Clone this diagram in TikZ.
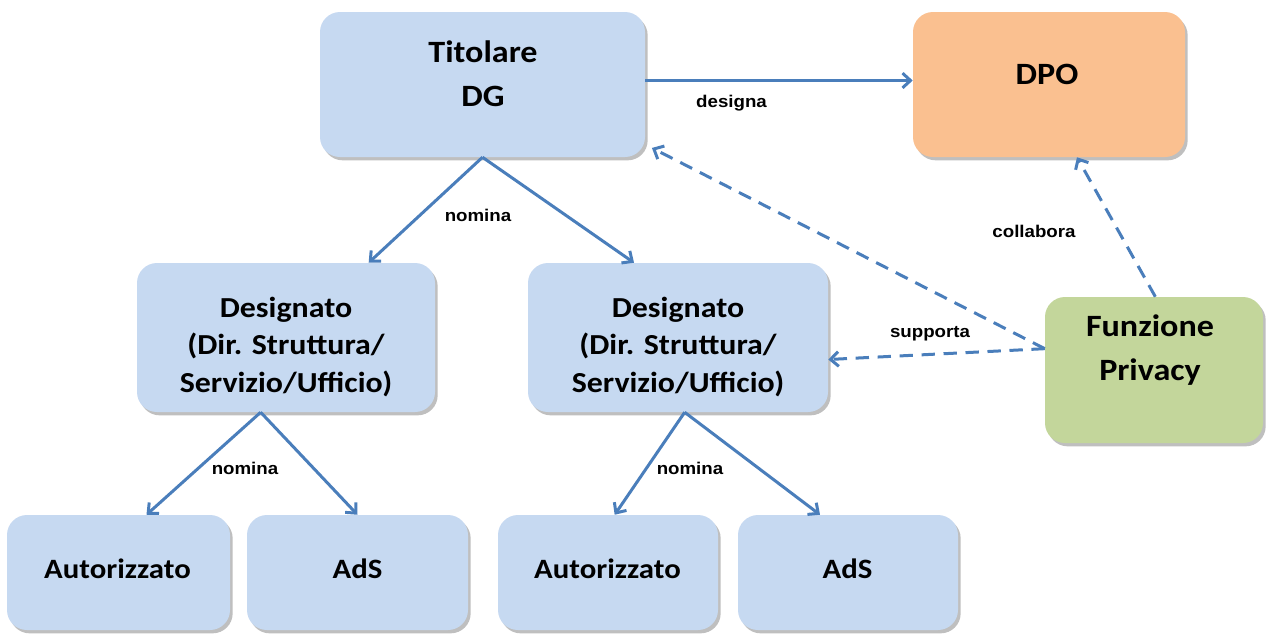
\documentclass[tikz,border=0pt]{standalone}
\usepackage{fontspec}
\setmainfont{Carlito}[FakeStretch=1.1]
\newfontfamily\lblfont{Liberation Sans}[FakeStretch=1.1]
\usetikzlibrary{arrows.meta,shadows}

\definecolor{boxblue}{RGB}{198,217,241}
\definecolor{dpoorange}{RGB}{250,192,144}
\definecolor{fpgreen}{RGB}{195,214,155}
\definecolor{arrowblue}{RGB}{74,126,187}

\tikzset{
  rbox/.style={rounded corners=15pt, inner sep=0pt,
    drop shadow={shadow xshift=2pt, shadow yshift=-2.5pt, fill=black, opacity=0.25}},
  bigtxt/.style={align=center, inner sep=0pt, font=\bfseries\fontsize{23.25pt}{33pt}\selectfont},
  midtxt/.style={align=center, inner sep=0pt, font=\bfseries\fontsize{21.75pt}{28pt}\selectfont},
  smalltxt/.style={align=center, inner sep=0pt, font=\bfseries\fontsize{21pt}{26pt}\selectfont},
  lbl/.style={inner sep=0pt, font=\lblfont\bfseries\fontsize{12.75pt}{15pt}\selectfont},
  arw/.style={draw=arrowblue, line width=2.25pt, -{Straight Barb[length=6pt,width=11pt]}},
  dsh/.style={arw, dash pattern=on 10pt off 6.5pt}
}

\begin{document}
\begin{tikzpicture}[x=0.75pt,y=0.75pt,yscale=-1,xscale=1]
\path[use as bounding box] (0,0) rectangle (1266,633);

%Boxes
\node[rbox, fill=boxblue, minimum width=243.75pt, minimum height=108.75pt] (tit) at (482.5,84.5) {};
\node[rbox, fill=dpoorange, minimum width=204pt, minimum height=108.75pt] (dpo) at (1049,84.5) {};
\node[rbox, fill=boxblue, minimum width=223.5pt, minimum height=111.75pt] (des1) at (286,337.5) {};
\node[rbox, fill=boxblue, minimum width=225pt, minimum height=111.75pt] (des2) at (678,337.5) {};
\node[rbox, fill=fpgreen, minimum width=163.5pt, minimum height=109.5pt] (fp) at (1154,370) {};
\node[rbox, fill=boxblue, minimum width=167.25pt, minimum height=86.25pt] (aut1) at (118.5,572.5) {};
\node[rbox, fill=boxblue, minimum width=165.75pt, minimum height=86.25pt] (ads1) at (357.5,572.5) {};
\node[rbox, fill=boxblue, minimum width=165pt, minimum height=86.25pt] (aut2) at (608,572.5) {};
\node[rbox, fill=boxblue, minimum width=165pt, minimum height=86.25pt] (ads2) at (848,572.5) {};

% Text Node
\node[bigtxt] (titT) at (483,74) {Titolare\\DG};
\node[bigtxt] (dpoT) at (1047,74) {DPO};
\node[midtxt] (des1T) at (286,347) {Designato\\(Dir. Struttura/\\Servizio/Ufficio)};
\node[midtxt] (des2T) at (678,347) {Designato\\(Dir. Struttura/\\Servizio/Ufficio)};
\node[bigtxt] (fpT) at (1150,350) {Funzione\\Privacy};
\node[smalltxt] (aut1T) at (117.5,569) {Autorizzato};
\node[smalltxt] (ads1T) at (357.5,569) {AdS};
\node[smalltxt] (aut2T) at (607.5,569) {Autorizzato};
\node[smalltxt] (ads2T) at (847.5,569) {AdS};

%Arrows
\draw[arw] ([yshift=-3]tit.east) -- ([yshift=-3]dpo.west);
\draw[arw] (tit.south) -- ([xshift=62]des1.north);
\draw[arw] (tit.south) -- ([xshift=-33]des2.north);
\draw[arw] ([xshift=-19]des1.south) -- ([xshift=21]aut1.north);
\draw[arw] ([xshift=-19]des1.south) -- (ads1.north);
\draw[arw] ([xshift=5]des2.south) -- ([xshift=5]aut2.north);
\draw[arw] ([xshift=5]des2.south) -- ([xshift=-21]ads2.north);
\draw[dsh] ([yshift=-16]fp.west) -- ([xshift=5,yshift=-7]tit.south east);
\draw[dsh] ([yshift=-16]fp.west) -- ([yshift=16.5]des2.east);
\draw[dsh] ([xshift=1]fp.north) -- ([xshift=21]dpo.south);

% Text Node
\node[lbl] (designa) at (731.5,103) {designa};
\node[lbl] (nomina1) at (478,215) {nomina};
\node[lbl] (nomina2) at (245,468) {nomina};
\node[lbl] (nomina3) at (690,468) {nomina};
\node[lbl] (collabora) at (1034,231) {collabora};
\node[lbl] (supporta) at (930,334) {supporta};
\end{tikzpicture}
\end{document}
